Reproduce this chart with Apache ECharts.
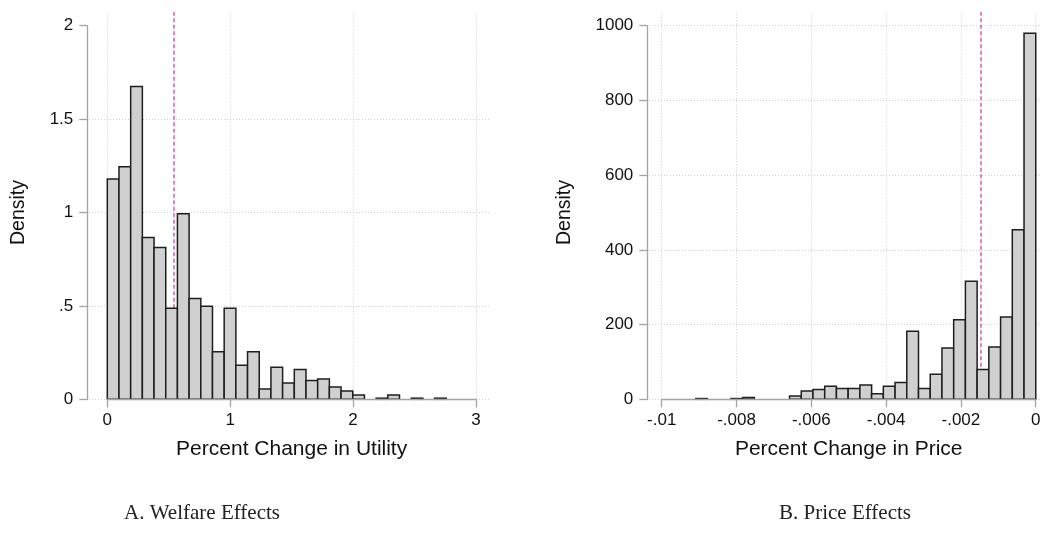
<!DOCTYPE html>
<html>
<head>
<meta charset="utf-8">
<script src="https://cdn.jsdelivr.net/npm/echarts@6/dist/echarts.min.js"></script>
<style>html,body{margin:0;padding:0;background:#fff}#c{width:1041px;height:535px}</style>
</head>
<body>
<div id="c"></div>
<script>
// ---------- DATA ----------
// Panel A: Welfare effects (percent change in utility)
const utilBinStart = 0;
const utilBinWidth = 0.0951;
const utilDensity = [1.18, 1.245, 1.675, 0.866, 0.8125, 0.4875, 0.993, 0.539, 0.498, 0.255,
                     0.4875, 0.182, 0.255, 0.055, 0.171, 0.0875, 0.16, 0.10, 0.109, 0.066,
                     0.045, 0.023, 0, 0.006, 0.023, 0, 0.006, 0, 0.006];
const utilMedian = 0.544;
const utilXTicks = [0, 1, 2, 3];
const utilYTicks = [0, 0.5, 1, 1.5, 2];
const utilYGrid = [0, 0.5, 1, 1.5];

// Panel B: Price effects (percent change in price)
const priceBinStart = -0.00909;
const priceBinWidth = 0.0003135;
const priceDensity = [2, 0, 0, 2, 5, 0, 0, 0, 9, 22,
                      26, 35, 29, 29, 38, 15, 35, 45, 182, 29,
                      67, 137, 213, 316, 80, 140, 220, 454, 980];
const priceMedian = -0.001465;
const priceXTicks = [-0.01, -0.008, -0.006, -0.004, -0.002, 0];
const priceYTicks = [0, 200, 400, 600, 800, 1000];
const priceYGrid = [0, 200, 400, 600, 800, 1000];

const titleA = 'A. Welfare Effects';
const titleB = 'B. Price Effects';
const xNameA = 'Percent Change in Utility';
const xNameB = 'Percent Change in Price';
const yName = 'Density';

// ---------- LAYOUT / STYLE ----------
const SANS = '"Liberation Sans", Arial, Helvetica, sans-serif';
const SERIF = '"Liberation Serif", "DejaVu Serif", serif';
const AXIS_COLOR = '#a3a3a3';
const GRID_COLOR = '#cfcfcf';
const MEDIAN_COLOR = '#d65ea1';
const BAR_FILL = '#d0d0d0';
const BAR_STROKE = '#1e1e1e';

const panels = [
  {xTicks: utilXTicks, yTicks: utilYTicks, yGrid: utilYGrid, binStart: utilBinStart, binWidth: utilBinWidth,
   dens: utilDensity, median: utilMedian, xName: xNameA,
   axLeft: 107.3, axRight: 476, axTop: 25.7, axBottom: 399.3,
   plotLeft: 89, plotRight: 490, plotTop: 12, yOffset: 20, yNameGap: 59,
   fmtX: v => String(Math.round(v)),
   fmtY: v => v === 0 ? '0' : (v < 1 ? String(v).slice(1) : String(v))},
  {xTicks: priceXTicks, yTicks: priceYTicks, yGrid: priceYGrid, binStart: priceBinStart, binWidth: priceBinWidth,
   dens: priceDensity, median: priceMedian, xName: xNameB,
   axLeft: 661.7, axRight: 1035.7, axTop: 25.7, axBottom: 399.3,
   plotLeft: 649, plotRight: 1070, plotTop: 12, yOffset: 14.4, yNameGap: 73,
   fmtX: v => { const r = Math.round(v * 1000) / 1000; return r === 0 ? '0' : String(r).replace('0.', '.'); },
   fmtY: v => String(Math.round(v))}
];

const grids = [], xAxes = [], yAxes = [], series = [];

panels.forEach((p, k) => {
  const xmin = p.xTicks[0], xmax = p.xTicks[p.xTicks.length - 1];
  const ymin = p.yTicks[0], ymax = p.yTicks[p.yTicks.length - 1];
  const interval = p.xTicks[1] - p.xTicks[0];
  const yInterval = p.yTicks[1] - p.yTicks[0];
  const xPerPx = (xmax - xmin) / (p.axRight - p.axLeft);
  const yPerPx = (ymax - ymin) / (p.axBottom - p.axTop);

  // axes grid (exact tick extents)
  const gA = grids.length;
  grids.push({left: p.axLeft, top: p.axTop, width: p.axRight - p.axLeft, height: p.axBottom - p.axTop,
              containLabel: false, outerBoundsMode: 'none'});
  xAxes.push({gridIndex: gA, type: 'value', min: xmin, max: xmax, interval: interval, z: 5,
    name: p.xName, nameLocation: 'middle', nameGap: 39,
    nameTextStyle: {fontFamily: SANS, fontSize: 21, color: '#111'},
    axisLine: {show: true, onZero: false, lineStyle: {color: AXIS_COLOR, width: 1.3}},
    axisTick: {show: true, length: 8, lineStyle: {color: AXIS_COLOR, width: 1.3}},
    axisLabel: {show: true, margin: 13, fontFamily: SANS, fontSize: 17, color: '#111', formatter: p.fmtX,
                showMinLabel: true, showMaxLabel: true},
    splitLine: {show: false}});
  yAxes.push({gridIndex: gA, type: 'value', min: ymin, max: ymax, interval: yInterval, offset: p.yOffset, z: 5,
    name: yName, nameLocation: 'middle', nameGap: p.yNameGap,
    nameTextStyle: {fontFamily: SANS, fontSize: 19.5, color: '#111'},
    axisLine: {show: true, onZero: false, lineStyle: {color: AXIS_COLOR, width: 1.3}},
    axisTick: {show: true, length: 8, lineStyle: {color: AXIS_COLOR, width: 1.3}},
    axisLabel: {show: true, margin: 14, fontFamily: SANS, fontSize: 17, color: '#111', formatter: p.fmtY},
    splitLine: {show: false}});

  // plot-region grid (wider, for grid lines and median line)
  const gB = grids.length;
  const pxMin = xmin - (p.axLeft - p.plotLeft) * xPerPx;
  const pxMax = xmax + (p.plotRight - p.axRight) * xPerPx;
  const pyMax = ymax + (p.axTop - p.plotTop) * yPerPx;
  grids.push({left: p.plotLeft, top: p.plotTop, width: p.plotRight - p.plotLeft, height: p.axBottom - p.plotTop,
              containLabel: false, outerBoundsMode: 'none'});
  xAxes.push({gridIndex: gB, type: 'value', min: pxMin, max: pxMax, show: false, splitLine: {show: false}});
  yAxes.push({gridIndex: gB, type: 'value', min: ymin, max: pyMax, show: false, splitLine: {show: false}});

  const gridLines = p.xTicks.map(v => ({xAxis: v})).concat(p.yGrid.map(v => ({yAxis: v})));
  series.push({type: 'line', xAxisIndex: gB, yAxisIndex: gB, data: [], z: 1, silent: true,
    markLine: {z: 1, silent: true, precision: 10, symbol: ['none', 'none'], animation: false, label: {show: false},
      lineStyle: {color: GRID_COLOR, width: 1, type: [1, 2]}, emphasis: {disabled: true},
      data: gridLines}});
  series.push({type: 'line', xAxisIndex: gB, yAxisIndex: gB, data: [], z: 1.5, silent: true,
    markLine: {z: 1.5, silent: true, precision: 10, symbol: ['none', 'none'], animation: false, label: {show: false},
      lineStyle: {color: MEDIAN_COLOR, width: 1.5, type: [4, 2.5]}, emphasis: {disabled: true},
      data: [{xAxis: p.median}]}});

  // histogram bars
  const bins = p.dens.map((d, i) => [p.binStart + i * p.binWidth, p.binStart + (i + 1) * p.binWidth, d])
                     .filter(b => b[2] > 0);
  series.push({type: 'custom', xAxisIndex: gA, yAxisIndex: gA, z: 3, silent: true, clip: false,
    data: bins,
    renderItem: (params, api) => {
      const p0 = api.coord([api.value(0), api.value(2)]);
      const p1 = api.coord([api.value(1), 0]);
      return {type: 'rect',
        shape: {x: p0[0], y: p0[1], width: p1[0] - p0[0], height: p1[1] - p0[1]},
        style: {fill: BAR_FILL, stroke: BAR_STROKE, lineWidth: 1.5}};
    }});
});

const chart = echarts.init(document.getElementById('c'), null, {renderer: 'canvas'});
chart.setOption({
  animation: false,
  backgroundColor: '#fff',
  grid: grids, xAxis: xAxes, yAxis: yAxes, series: series,
  graphic: [
    {type: 'text', style: {text: titleA, x: 202, y: 513, textAlign: 'center', textVerticalAlign: 'middle',
      fontFamily: SERIF, fontSize: 21, fill: '#222'}},
    {type: 'text', style: {text: titleB, x: 845, y: 513, textAlign: 'center', textVerticalAlign: 'middle',
      fontFamily: SERIF, fontSize: 21, fill: '#222'}}
  ]
});
</script>
</body>
</html>
